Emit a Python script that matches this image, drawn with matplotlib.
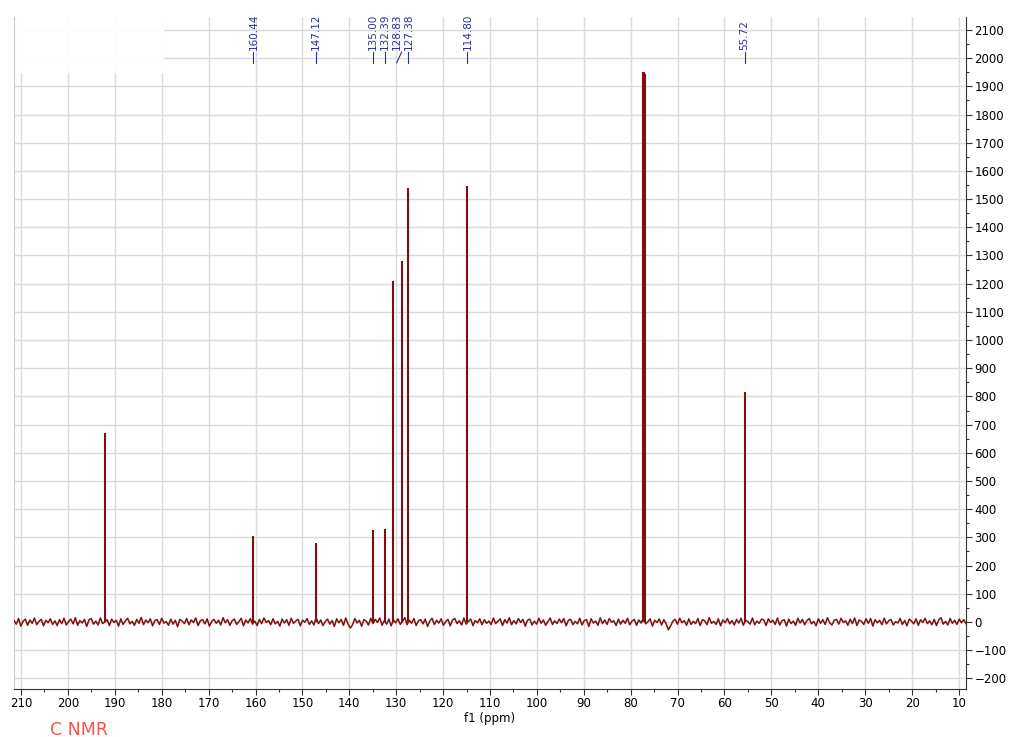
import numpy as np
import matplotlib.pyplot as plt
from matplotlib.ticker import MultipleLocator
from matplotlib.transforms import blended_transform_factory
from matplotlib.patches import Rectangle

# peak positions (ppm) and intensities
peak_ppm = [192.1, 160.44, 147.12, 135.00, 132.39, 130.6, 128.83, 127.38, 114.80,
            77.42, 77.16, 76.90, 55.72]
peak_height = [670, 305, 280, 325, 328, 1210, 1280, 1540, 1545,
               1950, 1950, 1945, 815]

# labelled peaks and where their labels sit on the ppm axis
label_ppm = [160.44, 147.12, 135.00, 132.39, 128.83, 127.38, 114.80, 55.72]
label_pos = [160.44, 147.12, 135.00, 132.39, 129.9, 127.38, 114.80, 55.72]
label_text = ["160.44", "147.12", "135.00", "132.39", "128.83", "127.38", "114.80", "55.72"]

# baseline noise, estimated by eye, left (211.5 ppm) to right (8.5 ppm)
noise = [
    5, -8, 12, -15, 3, 10, -12, 7, -5, 14, -10, 2, 9, -14, 6, -3, 11, -9, 4, -13, 8, -6, 13, -11, 1, 10, -7, 15, -12, 5,
    -4, 9, -16, 7, 12, -8, 3, -11, 14, -6, 0, 8, -13, 10, -2, 6, -15, 11, -9, 4, 13, -7, 2, -12, 9, -5, 16, -10, 7, -3,
    11, -14, 5, 8, -9, 13, -4, 1, -12, 10, -8, 6, -17, 9, 3, -6, 12, -10, 7, -2, 14, -13, 4, 8, -7, 11, -15, 2, 9, -5,
    6, -11, 15, -3, 8, -12, 4, 10, -9, 1, 13, -14, 7, -4, 12, -8, 3, -13, 9, -6, 14, -2, 5, -10, 11, -7, 2, -15, 10, -4,
    8, -12, 13, -5, 3, 9, -14, 6, -1, 12, -9, 4, -11, 15, -6, 7, -13, 2, 10, -8, 5, -16, 11, -3, 9, -12, 14, -7, 1, -10,
    12, -4, 6, -15, 8, 3, -11, 13, -6, 9, -2, 14, -12, 5, -8, 10, -14, 7, -3, 11, -9, 2, 15, -10, 6, -5, 12, -13, 4, 8,
    -7, 10, -16, 3, 13, -9, 6, -4, 11, -12, 1, 9, -14, 7, 12, -6, 4, -11, 14, -8, 2, 10, -13, 5, -3, 11, -10, 8, -5, 3,
    -9, 14, -6, 2, 11, -13, 8, -4, 15, -10, 5, -7, 12, -2, 9, -15, 6, 10, -11, 3, -8, 13, -5, 7, -12, 1, 14, -9, 4, -6,
    10, -3, 12, -14, 6, 9, -10, 2, -7, 13, -11, 5, 8, -16, 11, -4, 3, -12, 15, -6, 7, -9, 12, -1, 4, -13, 10, -8, 6, -5,
    13, -10, 3, 9, -12, 7, -4, 14, -7, 1, 11, -15, 6, -2, 10, -11, 8, -6, 12, -14, 3, 9, -8, 13, -3, 5, -12, 11, -9, 2,
    -6, 12, -13, 8, 4, -10, 15, -5, 2, -9, 11, -14, 7, -3, 12, -7, 5, -11, 9, -4, 13, -12, 6, 1, -8, 14, -10, 3, -5, 10,
    7, -13, 11, -2, 6, -9, 14, -11, 4, 8, -15, 10, -6, 3, -12, 13, -4, 9, -10, 5, 12, -7, 2, -14, 11, -5, 8, -9, 15, -3,
    -11, 6, 9, -8, 13, -2, 4, -12, 10, -6, 14, -13, 7, 2, -9, 11, -5, 12, -15, 8, -3, 6, -10, 13, -7, 4, 9, -11, 1, -4,
    12, -9, 5, -14, 10, 3, -7, 11, -12, 8, -2, 13, -6, 4, -10, 9, -13, 7, 15, -8, 2, -11, 12, -5, 6, -9, 10, -3, 8, -6,
]
# dips seen near 140 ppm and 72 ppm
noise[148] = -22
noise[288] = -28

red = "#7d1111"
blue = "#2e2e9a"

plt.rcParams['font.family'] = ['DejaVu Sans']

fig = plt.figure(figsize=(10.24, 7.37), dpi=100)
ax = fig.add_axes([14 / 1024, 1 - 689 / 737, 952 / 1024, 672 / 737])

x_noise = np.linspace(211.5, 8.5, len(noise))
ax.plot(x_noise, noise, color=red, lw=1.1, zorder=3)
ax.vlines(peak_ppm, 0, peak_height, color=red, lw=1.5, zorder=3)

ax.set_xlim(211.5, 8.5)
ax.set_ylim(-238, 2146)

ax.xaxis.set_major_locator(MultipleLocator(10))
ax.xaxis.set_minor_locator(MultipleLocator(5))
ax.yaxis.set_major_locator(MultipleLocator(100))
ax.yaxis.set_minor_locator(MultipleLocator(50))
ax.yaxis.tick_right()
ax.tick_params(axis='both', which='major', labelsize=8.5, length=4, width=0.8, color='#333333', pad=2)
ax.tick_params(axis='both', which='minor', length=2.5, width=0.8, color='#333333')
ax.grid(True, which='major', color='#dadada', lw=1.0, zorder=0)

ax.spines['top'].set_visible(False)
ax.spines['left'].set_color('#cccccc')
ax.spines['right'].set_color('#333333')
ax.spines['bottom'].set_color('#333333')

ax.set_xlabel("f1 (ppm)", fontsize=8.5, labelpad=1)

# faded top-left corner
ax.add_patch(Rectangle((0, 0.917), 0.158, 0.083, transform=ax.transAxes,
                       facecolor='white', edgecolor='none', alpha=0.95, zorder=2, clip_on=False))

# peak labels
tr = blended_transform_factory(ax.transData, ax.transAxes)
for p, lp, txt in zip(label_ppm, label_pos, label_text):
    ax.plot([lp, p], [0.932, 0.948], color=blue, lw=0.8, transform=tr, clip_on=False, zorder=4)
    ax.text(lp, 0.951, txt, rotation=90, ha='center', va='bottom', fontsize=7.5,
            color=blue, transform=tr, zorder=4)

fig.text(50 / 1024, 1 - 730 / 737, "C NMR", color='#f0574a', fontsize=12.5, va='center', ha='left')

fig.savefig("out.png", dpi=100)
